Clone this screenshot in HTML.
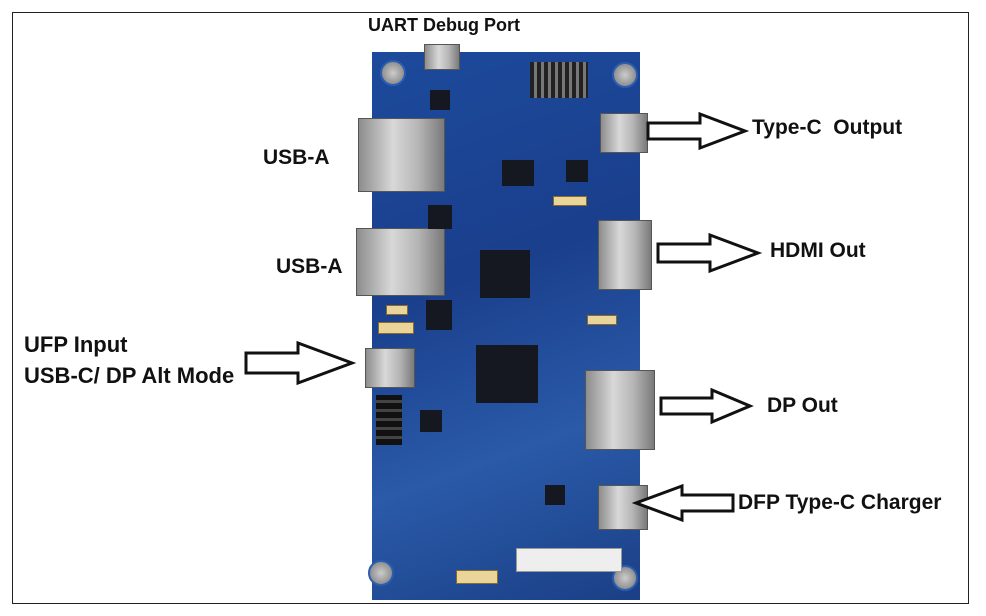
<!DOCTYPE html>
<html><head><meta charset="utf-8"><style>
body{margin:0;width:986px;height:616px;background:#fff;position:relative;overflow:hidden;font-family:"Liberation Sans",Arial,sans-serif}
.frame{position:absolute;left:12px;top:12px;width:957px;height:592px;border:1px solid #222;box-sizing:border-box}
.t{position:absolute;font-weight:bold;font-size:21px;color:#111;white-space:nowrap}
.board{position:absolute;left:372px;top:52px;width:268px;height:548px;background:linear-gradient(160deg,#1d4a9c,#1a3f8c 40%,#2a5aa8 70%,#1a3f86);}
.m{position:absolute;background:linear-gradient(90deg,#8d8d8d,#d8d8d8 40%,#b5b5b5 70%,#7a7a7a);border:1px solid #555;box-sizing:border-box}
.c{position:absolute;background:#151820}
.s{position:absolute;width:22px;height:22px;border-radius:50%;background:radial-gradient(#ccc,#777);border:2px solid #2c5db0}
.g{position:absolute;background:#e9d59a;border:1px solid #8a6a2a}
</style></head><body>
<div class="frame"></div>
<div class="board"></div>
<div class="s" style="left:380px;top:60px"></div>
<div class="s" style="left:612px;top:62px"></div>
<div class="s" style="left:368px;top:560px"></div>
<div class="s" style="left:612px;top:565px"></div>
<div class="m" style="left:424px;top:44px;width:36px;height:26px"></div>
<div class="c" style="left:530px;top:62px;width:58px;height:36px;background:repeating-linear-gradient(90deg,#222 0 4px,#777 4px 7px)"></div>
<div class="m" style="left:358px;top:118px;width:87px;height:74px"></div>
<div class="m" style="left:356px;top:228px;width:89px;height:68px"></div>
<div class="m" style="left:600px;top:113px;width:48px;height:40px"></div>
<div class="m" style="left:598px;top:220px;width:54px;height:70px"></div>
<div class="m" style="left:365px;top:348px;width:50px;height:40px"></div>
<div class="m" style="left:585px;top:370px;width:70px;height:80px"></div>
<div class="m" style="left:598px;top:485px;width:50px;height:45px"></div>
<div class="c" style="left:480px;top:250px;width:50px;height:48px"></div>
<div class="c" style="left:476px;top:345px;width:62px;height:58px"></div>
<div class="c" style="left:502px;top:160px;width:32px;height:26px"></div>
<div class="c" style="left:566px;top:160px;width:22px;height:22px"></div>
<div class="c" style="left:430px;top:90px;width:20px;height:20px"></div>
<div class="c" style="left:426px;top:300px;width:26px;height:30px"></div>
<div class="c" style="left:428px;top:205px;width:24px;height:24px"></div>
<div class="c" style="left:420px;top:410px;width:22px;height:22px"></div>
<div class="c" style="left:545px;top:485px;width:20px;height:20px"></div>
<div class="c" style="left:376px;top:395px;width:26px;height:50px;background:repeating-linear-gradient(0deg,#111 0 6px,#444 6px 9px)"></div>
<div class="g" style="left:553px;top:196px;width:32px;height:8px"></div>
<div class="g" style="left:378px;top:322px;width:34px;height:10px"></div>
<div class="g" style="left:386px;top:305px;width:20px;height:8px"></div>
<div class="g" style="left:587px;top:315px;width:28px;height:8px"></div>
<div class="g" style="left:456px;top:570px;width:40px;height:12px"></div>
<div style="position:absolute;left:516px;top:548px;width:104px;height:22px;background:#eee;border:1px solid #999"></div>
<div class="t" style="left:368px;top:15px;font-size:18px">UART Debug Port</div>
<div class="t" style="left:263px;top:146px">USB-A</div>
<div class="t" style="left:276px;top:255px">USB-A</div>
<div class="t" style="left:24px;top:332px;font-size:22px">UFP Input</div>
<div class="t" style="left:24px;top:363px;font-size:22px">USB-C/ DP Alt Mode</div>
<div class="t" style="left:752px;top:116px">Type-C&nbsp; Output</div>
<div class="t" style="left:770px;top:239px">HDMI Out</div>
<div class="t" style="left:767px;top:394px">DP Out</div>
<div class="t" style="left:738px;top:491px">DFP Type-C Charger</div>
<svg width="986" height="616" style="position:absolute;left:0;top:0" fill="#fff" stroke="#111" stroke-width="3">
<polygon points="648,123 700,123 700,114 745,131 700,148 700,139 648,139"/>
<polygon points="658,244 710,244 710,235 758,253 710,271 710,262 658,262"/>
<polygon points="661,398 712,398 712,390 750,406 712,422 712,414 661,414"/>
<polygon points="733,495 682,495 682,486 636,503 682,520 682,511 733,511"/>
<polygon points="246,353 298,353 298,343 352,363 298,383 298,373 246,373"/>
</svg>
</body></html>
